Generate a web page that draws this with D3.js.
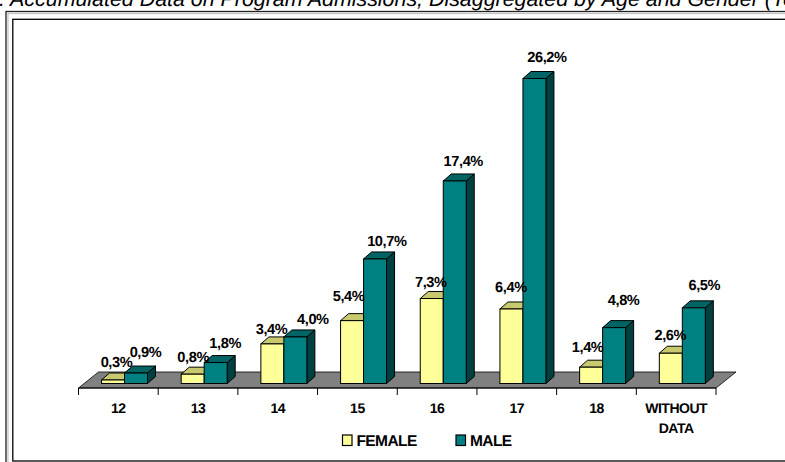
<!DOCTYPE html>
<html><head><meta charset="utf-8">
<script src="https://cdn.jsdelivr.net/npm/d3@7/dist/d3.min.js"></script>
<style>html,body{margin:0;padding:0;background:#fff;overflow:hidden}svg{display:block}text{font-family:"Liberation Sans",Arial,sans-serif;text-rendering:geometricPrecision}</style>
</head><body><svg id="c" width="785" height="462"></svg>
<script>
const categories = ["12","13","14","15","16","17","18","WITHOUT DATA"];
const female = [0.3,0.8,3.4,5.4,7.3,6.4,1.4,2.6];
const male = [0.9,1.8,4.0,10.7,17.4,26.2,4.8,6.5];
const seriesNames = ["FEMALE","MALE"];
const titleText = ": Accumulated Data on Program Admissions, Disaggregated by Age and Gender (To";
// hand-placed data label nudges (layout, relative to each bar's front-left top corner)
const femaleNudgeX = [15,12,10.7,8,10.6,11,8,11];
const femaleNudgeY = [13,12,10,19.6,11.8,17,15,13];
const maleNudgeX = [21,21,29,23.3,20,24,21,22];
const maleNudgeY = [16,14.5,12.7,12.5,15,16.5,23,18];
const fmt = v => v.toFixed(1).replace(".", ",") + "%";

const svg = d3.select("#c");
const x = d3.scaleBand().domain(categories).range([78.5,716]);
const y = d3.scaleLinear().domain([0,26.2]).range([383.5,78.5]);
const dx = 8, dy = 7;
const colors = {
  FEMALE:{front:"#ffff99",top:"#c8c86e",side:"#999966"},
  MALE:{front:"#008080",top:"#006464",side:"#004040"}
};

svg.append("text").attr("x",-1).attr("y",5.5).attr("font-size",21.4).attr("font-style","italic").text(titleText);

// frames (run off the right edge)
svg.append("rect").attr("x",6).attr("y",11.5).attr("width",900).attr("height",600).attr("fill","none").attr("stroke","#222").attr("stroke-width",1.3);
svg.append("rect").attr("x",8).attr("y",13.5).attr("width",900).attr("height",600).attr("fill","none").attr("stroke","#c4c4c4").attr("stroke-width",1.2);
svg.append("rect").attr("x",12.8).attr("y",19.3).attr("width",900).attr("height",441.7).attr("fill","#fff").attr("stroke","#000").attr("stroke-width",1.3);

// floor
const fl = d3.path();
fl.moveTo(x.range()[0],388); fl.lineTo(x.range()[1],388);
fl.lineTo(x.range()[1]+20,372); fl.lineTo(x.range()[0]+20,372); fl.closePath();
svg.append("path").attr("d",fl.toString()).attr("fill","#808080").attr("stroke","#000").attr("stroke-width",0.8);

// axis
const axisX = d3.scaleLinear().domain([0,categories.length]).range(x.range());
svg.append("line").attr("x1",x.range()[0]).attr("x2",x.range()[1]).attr("y1",388).attr("y2",388).attr("stroke","#000");
svg.selectAll(".t").data(d3.range(categories.length+1)).join("line").attr("class","t")
  .attr("x1",d=>axisX(d)).attr("x2",d=>axisX(d)).attr("y1",388).attr("y2",395).attr("stroke","#000");
svg.selectAll(".l").data(categories).join("text").attr("class","l")
  .attr("text-anchor","middle").attr("font-size",14).attr("font-weight","bold").attr("letter-spacing",-0.5)
  .each(function(d){
    const t=d3.select(this), cx=x(d)+x.bandwidth()/2;
    d.split(" ").forEach((w,i)=>t.append("tspan").attr("x",cx).attr("y",412.7+i*20.6).text(w));
  });

// bars
const offs = {FEMALE:23,MALE:46}, w = 23;
function bar(g,cat,val,name){
  const x0=x(cat)+offs[name], x1=x0+w, yt=y(val), yb=y(0), c=colors[name];
  const p=pts=>"M"+pts.map(q=>q.join(",")).join("L")+"Z";
  g.append("path").attr("d",p([[x1,yt],[x1+dx,yt-dy],[x1+dx,yb-dy],[x1,yb]])).attr("fill",c.side).attr("stroke","#000").attr("stroke-width",1);
  g.append("path").attr("d",p([[x0,yt],[x0+dx,yt-dy],[x1+dx,yt-dy],[x1,yt]])).attr("fill",c.top).attr("stroke","#000").attr("stroke-width",1);
  g.append("rect").attr("x",x0).attr("y",yt).attr("width",w).attr("height",yb-yt).attr("fill",c.front).attr("stroke","#000").attr("stroke-width",1);
}
const g = svg.append("g");
categories.forEach((c,i)=>{ bar(g,c,female[i],"FEMALE"); bar(g,c,male[i],"MALE"); });

// value labels
const lab = (c,v,name,nx,ny)=>svg.append("text").attr("text-anchor","middle").attr("font-size",14.6).attr("font-weight","bold").attr("letter-spacing",-0.4)
  .attr("x",x(c)+offs[name]+nx).attr("y",y(v)-ny).text(fmt(v));
categories.forEach((c,i)=>{
  lab(c,female[i],"FEMALE",femaleNudgeX[i],femaleNudgeY[i]);
  lab(c,male[i],"MALE",maleNudgeX[i],maleNudgeY[i]);
});

// legend
const lx=[342.5,456];
seriesNames.forEach((n,i)=>{
  svg.append("rect").attr("x",lx[i]).attr("y",435).attr("width",9.5).attr("height",10.5).attr("fill",colors[n].front).attr("stroke","#000").attr("stroke-width",1.2);
  svg.append("text").attr("x",lx[i]+14).attr("y",446).attr("font-size",15.5).attr("font-weight","bold").attr("letter-spacing",-0.6).text(n);
});
</script></body></html>
